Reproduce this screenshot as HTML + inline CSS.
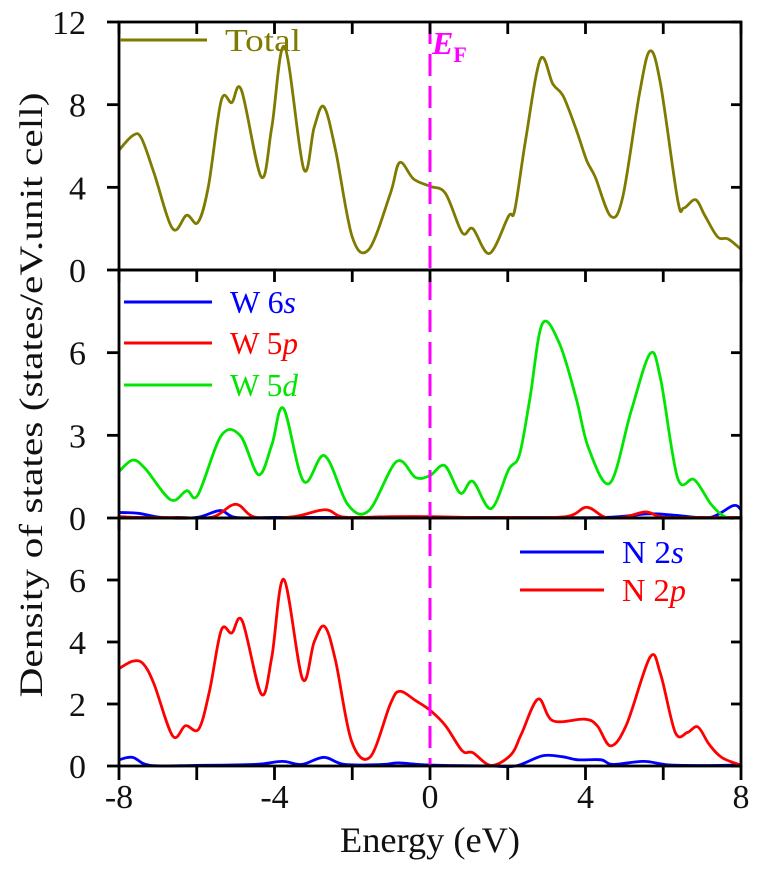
<!DOCTYPE html>
<html><head><meta charset="utf-8"><style>
html,body{margin:0;padding:0;background:#fff;}
svg{display:block;font-family:"Liberation Serif",serif;}
</style></head><body>
<svg id="chart" width="762" height="891" viewBox="0 0 762 891" xmlns="http://www.w3.org/2000/svg"></svg>
<script>
// ---- data ----
const totalE=[-8,-7.65,-7.43,-7.1,-6.62,-6.26,-5.97,-5.7,-5.37,-5.1,-4.85,-4.34,-4.07,-3.74,-3.25,-2.98,-2.73,-2.43,-2.0,-1.57,-1.02,-0.78,-0.42,0,0.4,0.83,1.1,1.53,2.02,2.18,2.46,2.84,3.16,3.43,3.76,4.03,4.25,4.65,4.96,5.39,5.66,5.93,6.37,6.53,6.83,7.08,7.4,7.67,8];
const totalV=[5.8,6.5,6.4,4.7,2.0,2.65,2.3,4.05,8.2,8.1,8.7,4.5,6.9,10.8,4.9,6.9,7.9,5.8,1.6,1.0,3.7,5.2,4.4,4.05,3.7,1.8,2.0,0.8,2.6,2.9,6.3,10.2,9.0,8.4,6.8,5.3,4.5,2.6,3.55,8.55,10.6,9.0,3.4,3.0,3.4,2.6,1.6,1.5,1.0];
const w5dE=[-8,-7.65,-7.33,-6.67,-6.26,-5.97,-5.37,-4.88,-4.41,-4.07,-3.77,-3.25,-2.71,-2.11,-1.57,-0.86,-0.37,0,0.38,0.78,1.1,1.57,2.02,2.3,2.57,2.89,3.33,3.76,4.08,4.63,5.17,5.66,5.93,6.37,6.8,7.24,7.62,8];
const w5dV=[1.69,2.1,1.8,0.66,0.99,0.84,2.99,2.99,1.57,2.65,3.98,1.33,2.26,0.48,0.27,2.05,1.47,1.54,1.9,0.9,1.33,0.34,1.75,2.29,4.34,7.05,6.33,4.34,2.53,1.27,3.86,5.96,5.06,1.45,1.39,0.48,0.02,0.02];
const w5pE=[-8,-7.5,-6.5,-5.6,-5.0,-4.5,-3.5,-2.7,-2.2,-1,0,1,2,3.5,4.03,4.5,5.0,5.55,6.0,7,8];
const w5pV=[0.05,0.02,0.02,0.03,0.5,0.03,0.05,0.3,0.03,0.05,0.05,0.02,0.02,0.05,0.39,0.03,0.03,0.22,0.03,0.02,0.02];
const w6sE=[-8,-7.5,-6.9,-6,-5.4,-5.0,-4,-2,0,2,4.5,5.6,6.3,7.2,7.8,8];
const w6sV=[0.2,0.17,0.02,0.02,0.27,0.02,0.02,0.02,0.02,0.02,0.02,0.15,0.1,0.02,0.45,0.3];
const n2pE=[-8,-7.65,-7.38,-7.1,-6.62,-6.29,-5.95,-5.67,-5.37,-5.1,-4.83,-4.34,-4.07,-3.76,-3.28,-2.98,-2.71,-2.43,-2.02,-1.54,-1.02,-0.78,-0.37,0,0.4,0.83,1.1,1.57,2.08,2.35,2.78,3.16,3.98,4.3,4.65,5.06,5.66,5.93,6.31,6.62,6.89,7.18,7.51,8];
const n2pV=[3.14,3.38,3.3,2.65,0.97,1.3,1.19,2.43,4.38,4.29,4.68,2.32,3.51,6.02,2.81,4.0,4.5,3.4,0.81,0.29,2.0,2.41,2.11,1.8,1.3,0.49,0.43,0.02,0.36,1.03,2.16,1.46,1.51,1.3,0.65,1.35,3.51,2.97,1.08,1.08,1.26,0.7,0.27,0.03];
const n2sE=[-8,-7.65,-7.2,-6,-4.5,-3.8,-3.3,-2.73,-2.2,-1.2,-0.8,0,1.5,2.2,2.9,3.4,3.8,4.4,4.7,5.5,6.2,7.5,8];
const n2sV=[0.2,0.28,0.02,0.02,0.05,0.15,0.05,0.28,0.05,0.05,0.1,0.03,0,0,0.33,0.3,0.2,0.2,0.05,0.15,0.03,0.02,0.05];
const xTicks=[-8,-4,0,4,8];
const topTicks=[0,4,8,12];
const midTicks=[0,3,6];
const botTicks=[0,2,4,6];

// ---- geometry ----
const X0=119,X1=741;
const panels=[{top:22,bot:270,max:12},{top:270,bot:518,max:9},{top:518,bot:766,max:8}];
const NS="http://www.w3.org/2000/svg";
const svg=document.getElementById('chart');
function xs(e){return X0+(e+8)/16*(X1-X0);}
function ys(p,v){return p.bot-v/p.max*(p.bot-p.top);}
function mk(tag,attrs,parent){const el=document.createElementNS(NS,tag);for(const k in attrs)el.setAttribute(k,attrs[k]);(parent||svg).appendChild(el);return el;}
function curve(p,E,V,color,name){
  const pts=E.map((e,i)=>[xs(e),ys(p,V[i])]);
  let d='M'+pts[0][0]+','+pts[0][1];
  for(let i=0;i<pts.length-1;i++){
    const p0=pts[Math.max(0,i-1)],p1=pts[i],p2=pts[i+1],p3=pts[Math.min(pts.length-1,i+2)];
    const c1=[p1[0]+(p2[0]-p0[0])/6,p1[1]+(p2[1]-p0[1])/6];
    const c2=[p2[0]-(p3[0]-p1[0])/6,p2[1]-(p3[1]-p1[1])/6];
    d+=' C'+c1[0]+','+c1[1]+' '+c2[0]+','+c2[1]+' '+p2[0]+','+p2[1];
  }
  const el=mk('path',{d:d,fill:'none',stroke:color,'stroke-width':2.8,'stroke-linejoin':'round'});
  
  
}
function text(x,y,s,attrs,name){const t=mk('text',Object.assign({x:x,y:y,'font-size':34,fill:'#111'},attrs||{}));t.textContent=s;
  
  return t;}

// curves
curve(panels[0],totalE,totalV,'#7f7a00','total-dos-line');
curve(panels[1],w6sE,w6sV,'#0000ff','w6s-line');
curve(panels[1],w5pE,w5pV,'#ff0000','w5p-line');
curve(panels[1],w5dE,w5dV,'#00e600','w5d-line');
curve(panels[2],n2sE,n2sV,'#0000ff','n2s-line');
curve(panels[2],n2pE,n2pV,'#ff0000','n2p-line');

// fermi line
const ef=mk('line',{x1:xs(0),x2:xs(0),y1:22,y2:766,stroke:'#ff00ff','stroke-width':3,'stroke-dasharray':'22,10'});



// axes frames & ticks
panels.forEach((p,pi)=>{
  const r=mk('rect',{x:X0,y:p.top,width:X1-X0,height:p.bot-p.top,fill:'none',stroke:'#000','stroke-width':2.8});
  
  
  for(let e=-8;e<=8;e+=2){
    mk('line',{x1:xs(e),x2:xs(e),y1:p.top,y2:p.top+12,stroke:'#000','stroke-width':2.8});
  }
  const ticks=[topTicks,midTicks,botTicks][pi];
  ticks.forEach(v=>{
    const y=ys(p,v);
    mk('line',{x1:X0-12,x2:X0,y1:y,y2:y,stroke:'#000','stroke-width':2.8});
    mk('line',{x1:X1,x2:X1-10,y1:y,y2:y,stroke:'#000','stroke-width':2.8});
    text(86,y+12,String(v),{'text-anchor':'end'},'y-tick-label');
  });
});
for(let e=-8;e<=8;e+=2){
  mk('line',{x1:xs(e),x2:xs(e),y1:766,y2:780,stroke:'#000','stroke-width':2.8});
}
xTicks.forEach(e=>text(xs(e),808,String(e),{'text-anchor':'middle'},'x-tick-label'));
text(430,852,'Energy (eV)',{'text-anchor':'middle','font-size':36,textLength:180,lengthAdjust:'spacingAndGlyphs'},'x-axis-title');
text(0,0,'Density of states (states/eV.unit cell)',{'text-anchor':'middle','font-size':33,textLength:605,lengthAdjust:'spacingAndGlyphs',transform:'translate(42,395) rotate(-90)'},'y-axis-title');

// E_F label
const efl=mk('text',{x:432,y:54,'font-size':32,fill:'#ff00ff','font-style':'italic','font-weight':'bold'});


efl.innerHTML='E<tspan font-size="22" font-style="normal" dy="8">F</tspan>';

// legends
function legend(x1,x2,y,color,label,italicPart,name,tl){
  const l=mk('line',{x1:x1,x2:x2,y1:y,y2:y,stroke:color,'stroke-width':3});
  
  
  const t=mk('text',{x:x2+18,y:y+11,'font-size':32,fill:color,textLength:tl,lengthAdjust:'spacingAndGlyphs'});
  
  
  t.innerHTML=label+(italicPart?'<tspan font-style="italic">'+italicPart+'</tspan>':'');
}
legend(120,207,40,'#7f7a00','Total','','legend-total',76);
legend(124,212,302,'#0000ff','W 6','s','legend-w6s',66);
legend(124,212,343,'#ff0000','W 5','p','legend-w5p',68);
legend(124,212,385,'#00e600','W 5','d','legend-w5d',68);
legend(520,604,552,'#0000ff','N 2','s','legend-n2s',62);
legend(520,604,590,'#ff0000','N 2','p','legend-n2p',64);
</script>
</body></html>
